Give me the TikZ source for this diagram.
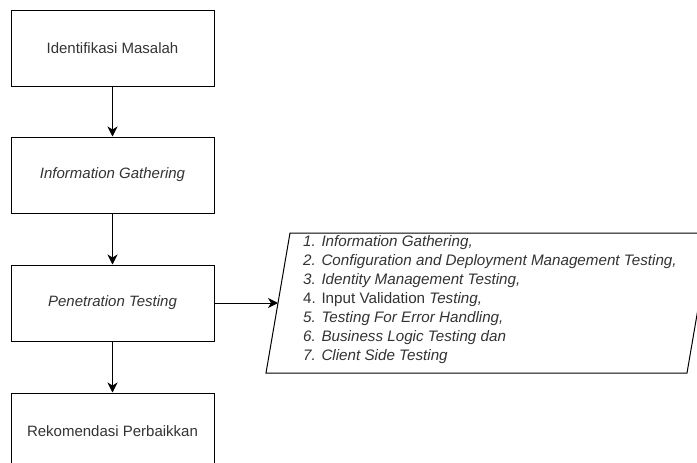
\documentclass[tikz,border=0pt]{standalone}
\usepackage{fontspec}
\setmainfont{Liberation Sans}
\usetikzlibrary{arrows.meta}
\definecolor{txt}{HTML}{333333}
\tikzset{
  stepbox/.style={draw=black, line width=1pt, minimum width=203pt, minimum height=76pt, inner sep=0pt, text=txt, font=\fontsize{15}{18}\selectfont},
  conn/.style={line width=1pt, -{Stealth[length=10pt,width=10pt,inset=3pt]}}
}
\begin{document}
\begin{tikzpicture}[x=1pt,y=-1pt]
\useasboundingbox (0,0) rectangle (697,463);
\clip (0,0) rectangle (697,463);
\node[stepbox] (b1) at (112.5,48) {Identifikasi Masalah};
\node[stepbox] (b2) at (112.5,175) {\itshape Information Gathering};
\node[stepbox] (b3) at (112.5,303) {\itshape Penetration Testing};
\node[stepbox] (b4) at (112.5,431) {Rekomendasi Perbaikkan};
\coordinate (pTL) at (290,233);
\coordinate (pTR) at (711,233);
\coordinate (pBR) at (687,373);
\coordinate (pBL) at (266,373);
\coordinate (pin) at (278,303);
\draw[line width=1pt, line join=miter] (pTL) -- (pTR) -- (pBR) -- (pBL) -- cycle;
\node[anchor=west, align=left, text=txt, inner sep=0pt, font=\fontsize{15.2}{19}\selectfont] (list) at (303,300) {%
\textit{1. Information Gathering,}\\
\textit{2. Configuration and Deployment Management Testing,}\\
\textit{3. Identity Management Testing,}\\
4. Input Validation \textit{Testing,}\\
\textit{5. Testing For Error Handling,}\\
\textit{6. Business Logic Testing dan}\\
\textit{7. Client Side Testing}};
\draw[conn] (b1) -- (b2);
\draw[conn] (b2) -- (b3);
\draw[conn] (b3) -- (b4);
\draw[conn] (b3.east) -- (pin);
\end{tikzpicture}
\end{document}
